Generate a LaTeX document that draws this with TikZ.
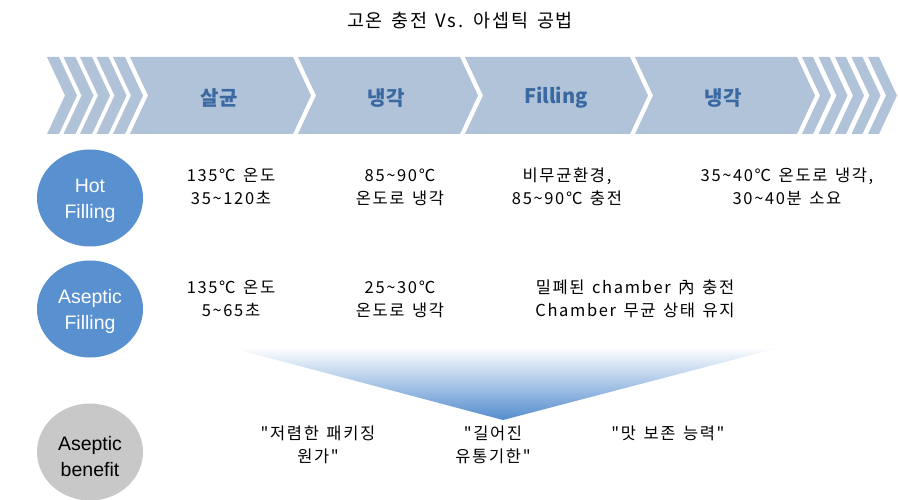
\documentclass[tikz,border=0pt]{standalone}
\usepackage{fontspec}
\setmainfont{Noto Sans CJK KR}[Ligatures=TeXOff]
\newfontfamily\spaced{Noto Sans CJK KR}[Ligatures=TeXOff,LetterSpace=10,WordSpace=2]
\newfontfamily\titlefont{Noto Sans CJK KR}[Ligatures=TeXOff,LetterSpace=10,WordSpace=1.4]
\newfontfamily\lat{Liberation Sans}
\usetikzlibrary{shapes.geometric}
\definecolor{chevfill}{RGB}{177,195,217}
\definecolor{chevtext}{RGB}{58,104,160}
\definecolor{circblue}{RGB}{88,144,208}
\definecolor{circgray}{RGB}{200,200,200}
\definecolor{funnelblue}{RGB}{84,140,206}
\newcommand\chevshape[2]{\fill[chevfill] (#1,57) -- (#2,57) -- ++(18,38.5) -- (#2,134) -- (#1,134) -- ++(18,-38.5) -- cycle;}
\newcommand\tld{\textasciitilde}
\begin{document}
\begin{tikzpicture}[x=1pt,y=-1pt,
  chevlabel/.style={text=chevtext,font=\fontsize{20}{24}\selectfont\bfseries,inner sep=0pt},
  bubble/.style={ellipse,minimum width=106pt,minimum height=97pt,inner sep=0pt},
  bubbletext/.style={align=center,inner sep=0pt,font=\lat\fontsize{19.5}{26}\selectfont},
  cell/.style={align=center,inner sep=0pt,font=\spaced\fontsize{16.5}{23}\selectfont},
  titlestyle/.style={font=\titlefont\fontsize{18.5}{22}\selectfont,inner sep=0pt}]
\useasboundingbox (0,0) rectangle (898,500);
\fill[white] (0,0) rectangle (898,500);
% title
\node[titlestyle] (title) at (460,21) {고온 충전 Vs. 아셉틱 공법};
% chevron band
\foreach \s in {47,63.5,80,96.5,113}{\chevshape{\s}{\s+12}}
\chevshape{130}{293}
\chevshape{298}{460}
\chevshape{465}{630}
\chevshape{635}{797}
\foreach \s in {802,818.5,835,851.5,868}{\chevshape{\s}{\s+11}}
\node[chevlabel] (c1) at (219,98) {살균};
\node[chevlabel] (c2) at (386,98) {냉각};
\node[chevlabel] (c3) at (556,98) {Filling};
\node[chevlabel] (c4) at (723,98) {냉각};
% funnel
\shade[top color=white,bottom color=funnelblue] (228,347) -- (782,347) -- (503,420) -- cycle;
% circles
\node[bubble,fill=circblue] (hot) at (90,198) {};
\node[bubbletext,text=white] (hott) at (90,201) {Hot\\Filling};
\node[bubble,fill=circblue] (asep) at (90,309) {};
\node[bubbletext,text=white] (asept) at (90,311) {Aseptic\\Filling};
\node[bubble,fill=circgray] (ben) at (90,452) {};
\node[bubbletext,text=black] (bent) at (90,457) {Aseptic\\benefit};
% hot filling row
\node[cell] (h1) at (231,187) {135℃ 온도\\35\tld120초};
\node[cell] (h2) at (400,187) {85\tld90℃\\온도로 냉각};
\node[cell] (h3) at (567,187) {비무균환경,\\85\tld90℃ 충전};
\node[cell] (h4) at (787,187) {35\tld40℃ 온도로 냉각,\\30\tld40분 소요};
% aseptic row
\node[cell] (a1) at (231,299) {135℃ 온도\\5\tld65초};
\node[cell] (a2) at (400,299) {25\tld30℃\\온도로 냉각};
\node[cell] (a3) at (635,299) {밀폐된 chamber 內 충전\\Chamber 무균 상태 유지};
% benefit row
\node[cell] (b1) at (318,445) {"저렴한 패키징\\원가"};
\node[cell] (b2) at (493,445) {"길어진\\유통기한"};
\node[cell] (b3) at (668,433) {"맛 보존 능력"};
\end{tikzpicture}
\end{document}
